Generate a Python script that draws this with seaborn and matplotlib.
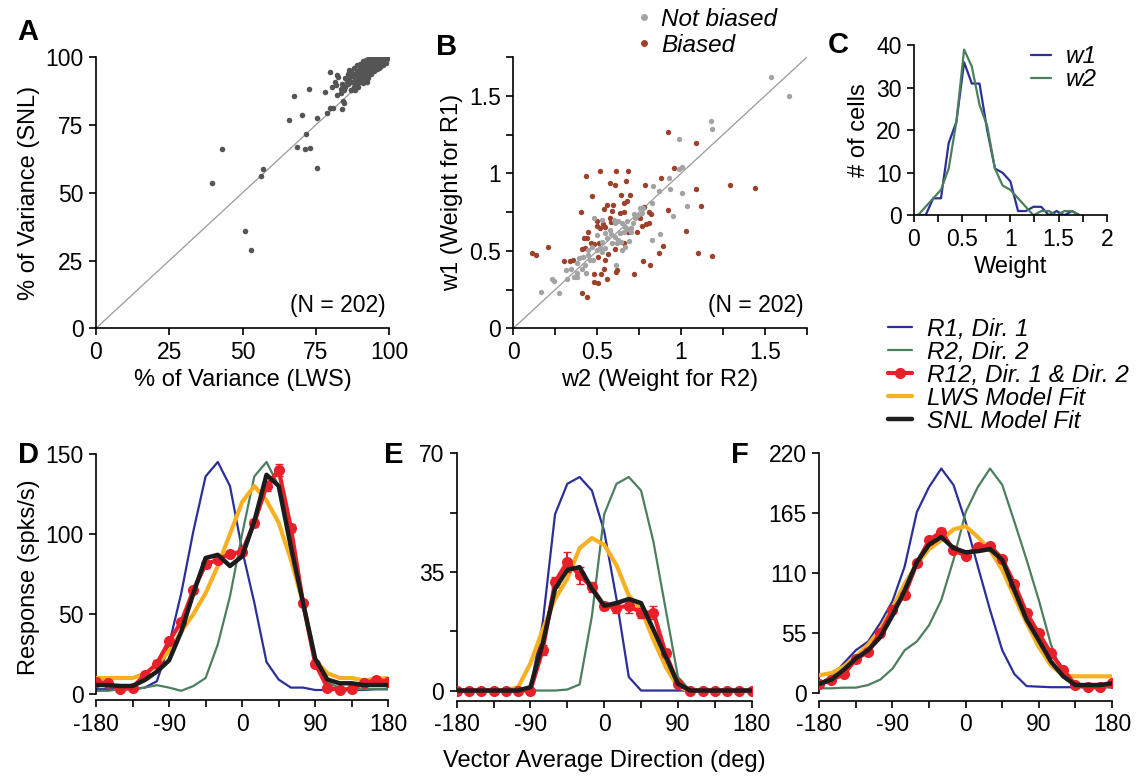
import numpy as np
import pandas as pd
import matplotlib
matplotlib.use('Agg')
import matplotlib.pyplot as plt
import seaborn as sns
from matplotlib.lines import Line2D

# ---- panel A: % variance explained, LWS vs SNL ----
a_lws = [39.5, 43, 51, 53, 56.4, 57, 66, 67.6, 70.3, 72.6, 68.7, 71.2, 73, 71.6, 75.3, 75.5,
         78.3, 79, 79.8, 79.9, 81, 82.3, 82.7, 81.9, 82.1, 83.6, 84, 84.4, 84.6, 85.5, 86.3,
         80.7, 81.4, 87, 87.8, 89,
         86, 86.5, 87, 87, 87.5, 88, 88, 88.5, 88.5, 89, 89, 89.5, 89.5, 90, 90, 90, 90.5, 90.5,
         91, 91, 91, 91.5, 91.5, 92, 92, 92, 92.5, 92.5, 93, 93, 93, 93.5, 93.5, 94, 94, 94,
         94.5, 94.5, 95, 95, 95, 95.5, 95.5, 96, 96, 96, 96.5, 96.5, 97, 97, 97, 97.5, 97.5,
         98, 98, 98.5, 98.5, 99, 99, 99.5, 92, 93, 94, 91, 90, 89, 88, 87, 86, 85.5, 85, 85,
         84, 83.5, 84.5, 93.5, 95.5, 97.5, 98.5, 99.5, 96.5, 95, 92.5, 91.5, 89.5, 88.5, 96,
         98, 99, 97]
a_snl = [53.7, 66, 36, 29, 56.3, 58.8, 76.9, 85.8, 78.7, 88.2, 66.8, 66.2, 66.4, 71.6, 59.3, 77.7,
         87.1, 79.6, 94.5, 81.4, 81.2, 93.6, 92.6, 89.9, 86.1, 88.2, 80.9, 84, 83.3, 90.8, 95.3,
         88.9, 90.8, 88, 91, 94.1,
         90, 92, 88, 91, 93, 89, 91, 94, 92.5, 90, 95, 92, 93.5, 91, 94, 96, 92.5, 95,
         93, 90.5, 96.5, 94, 97, 92, 95, 98, 93.5, 96, 94.5, 97, 92.5, 95.5, 98.5, 96, 94, 97.5,
         95, 98.5, 96.5, 97.5, 99, 95.5, 98, 97, 99, 98, 97.5, 99.5, 98, 96.5, 99, 98.5, 99.5,
         99, 98, 99.5, 98.5, 99.5, 99, 99.8, 99, 99.5, 99.6, 98.5, 97.5, 97, 96, 95, 94, 91, 89, 92.5,
         90, 87, 88, 99.7, 99.7, 99.7, 99.7, 99.7, 96, 95, 91, 91.5, 89, 88, 95.5,
         97, 98, 97]

# ---- panel B: weights ----
b_gray_w2 = [1.535, 1.645, 1.181, 1.183, 0.986, 1.008, 0.988, 0.927, 0.937, 0.869, 1.004, 1.034,
             0.951, 0.875, 0.825, 0.825, 0.831, 0.163, 0.272, 0.233, 0.245, 0.312, 0.320, 0.346,
             0.481, 0.527, 0.547, 0.577, 0.607, 0.626, 0.650, 0.666, 0.636, 0.662, 0.686, 0.702,
             0.726, 0.742, 0.756, 0.775, 0.770, 0.714, 0.607, 0.626, 0.587, 0.617, 0.547, 0.517,
             0.497, 0.527, 0.467, 0.447, 0.447, 0.477, 0.418, 0.392, 0.428, 0.412, 0.432, 0.382,
             0.378, 0.614, 0.646, 0.666, 0.690, 0.560, 0.600, 0.680, 0.720, 0.700, 0.640, 0.580,
             0.530, 0.500, 0.460, 0.380, 0.360]
b_gray_w1 = [1.621, 1.499, 1.341, 1.286, 1.221, 1.040, 1.027, 0.973, 0.902, 0.889, 0.874, 0.792,
             0.726, 0.607, 0.807, 0.571, 0.917, 0.237, 0.226, 0.321, 0.308, 0.377, 0.321, 0.383,
             0.715, 0.702, 0.614, 0.635, 0.678, 0.696, 0.678, 0.657, 0.614, 0.624, 0.642, 0.624,
             0.711, 0.730, 0.780, 0.780, 0.743, 0.678, 0.592, 0.571, 0.549, 0.549, 0.517, 0.517,
             0.506, 0.495, 0.528, 0.506, 0.474, 0.441, 0.463, 0.452, 0.409, 0.383, 0.360, 0.334,
             0.360, 0.409, 0.506, 0.528, 0.566, 0.580, 0.700, 0.690, 0.740, 0.650, 0.560, 0.610,
             0.560, 0.600, 0.440, 0.420, 0.330]
b_brown_w2 = [0.113, 0.133, 0.205, 0.304, 0.340, 0.358, 0.404, 0.412, 0.442, 0.432, 0.467, 0.483,
              0.507, 0.483, 0.521, 0.519, 0.575, 0.607, 0.614, 0.684, 0.670, 0.642, 0.698, 0.662,
              0.676, 0.559, 0.597, 0.923, 1.092, 0.959, 0.879, 0.784, 1.088, 1.295, 1.444, 1.122,
              0.921, 1.030, 1.100, 1.183, 0.893, 0.869, 0.815, 0.774, 0.720, 0.618, 0.612, 0.559,
              0.539, 0.547, 0.567, 0.507, 0.607, 0.660, 0.682, 0.736, 0.765, 0.793, 0.809, 0.811,
              0.819, 0.754, 0.781, 0.634, 0.660, 0.587, 0.541, 0.499, 0.499, 0.535, 0.549, 0.444,
              0.438, 0.424, 0.428, 0.463, 0.483, 0.412, 0.509, 0.575, 0.580, 0.515]
b_brown_w1 = [0.489, 0.474, 0.528, 0.437, 0.437, 0.441, 0.754, 0.230, 0.200, 0.984, 0.857, 0.301,
              0.291, 0.349, 0.349, 1.019, 0.941, 0.928, 1.019, 1.019, 0.954, 0.859, 0.859, 0.807,
              0.825, 0.799, 0.799, 1.270, 1.195, 1.038, 0.969, 0.924, 0.900, 0.928, 0.907, 0.790,
              0.767, 0.629, 0.489, 0.467, 0.532, 0.489, 0.409, 0.435, 0.349, 0.377, 0.366, 0.319,
              0.383, 0.441, 0.480, 0.459, 0.512, 0.553, 0.624, 0.624, 0.661, 0.676, 0.678, 0.751,
              0.739, 0.713, 0.786, 0.745, 0.751, 0.756, 0.769, 0.691, 0.663, 0.674, 0.657, 0.622,
              0.586, 0.584, 0.521, 0.549, 0.545, 0.512, 0.549, 0.711, 0.689, 0.646]

# ---- panel C: weight histograms ----
c_bins = [0.04, 0.12, 0.20, 0.28, 0.36, 0.44, 0.52, 0.60, 0.68, 0.76, 0.84, 0.92, 1.00, 1.08,
          1.16, 1.24, 1.32, 1.40, 1.48, 1.56, 1.64, 1.72]
c_w1 = [0, 0, 4, 4, 17, 22, 36, 31, 31, 20, 11, 10, 8, 1, 1, 2, 2, 0, 1, 0, 1, 0]
c_w2 = [0, 2, 4, 6, 11, 22, 39, 35, 26, 21, 11, 7, 6, 4, 2, 0, 1, 1, 0, 1, 1, 0]

# ---- panels D-F: tuning curves ----
dirs = list(range(-180, 181, 15))

d_r1 = [3, 3, 3, 3, 4, 8, 31, 63, 102, 136, 145, 130, 90, 57, 20, 9, 4, 4, 2.5, 2.5, 2.5, 2.5, 2.5, 3, 3]
d_r2 = [2, 2, 3, 3, 4, 5.5, 4, 2, 5, 10, 31, 61, 100, 136, 145, 130, 90, 57, 20, 7, 4, 3, 3, 3, 3]
d_r12 = [7.7, 6.7, 3, 4, 12, 19, 33, 45, 65, 81, 84, 87.5, 89, 107, 130, 140, 104, 57, 19, 4, 2.5, 3, 6.7, 8.7, 7.7]
d_err = [1, 1, 1, 1, 1.5, 2, 2, 2, 2, 2, 2, 2, 2, 2.5, 3, 4, 2.5, 2, 1.5, 1, 1, 1, 1, 1, 1]
d_lws = [10, 10, 10, 10, 12.5, 18, 27, 39, 50, 63, 80, 100, 120, 130, 121, 107, 84, 57, 21, 13, 10, 10, 8.5, 9.5, 10]
d_snl = [5.6, 5.6, 5, 5, 8.7, 14, 21, 39, 63, 85, 87, 80, 86, 108, 137, 130, 92, 57, 22, 9, 6.7, 6.7, 5.6, 5.6, 5.6]

e_r1 = [0, 0, 0, 0, 0, 0, 0.7, 20, 52, 61, 63, 59, 47, 27, 4, 0, 0, 0, 0, 0, 0, 0, 0, 0, 0]
e_r2 = [0, 0, 0, 0, 0, 0, 0, 0, 0, 0.3, 1.8, 22, 52, 61, 63, 59, 44, 24, 4, 0, 0, 0, 0, 0, 0]
e_r12 = [0, 0, 0, 0, 0, 0, 0, 12, 32, 38, 34, 30.5, 25, 24.5, 25, 23, 23, 11, 2, 0, 0, 0, 0, 0, 0]
e_err = [0.3, 0.3, 0.3, 0.3, 0.3, 0.3, 0.3, 1.5, 1.5, 3, 2.5, 1.5, 1.2, 1.5, 2, 1.5, 2, 1.2, 0.5, 0.3, 0.3, 0.3, 0.3, 0.3, 0.3]
e_lws = [0, 0, 0, 0, 0, 1, 8, 18, 27, 33, 42, 45, 43, 37, 28, 24, 15, 7, 1, 0, 0, 0, 0, 0, 0]
e_snl = [0, 0, 0, 0, 0, 0, 1, 14, 30, 35.6, 36.4, 30, 25, 25.8, 27, 25.8, 18, 10, 2, 0, 0, 0, 0, 0, 0]

f_r1 = [8.6, 14.7, 27, 39, 47, 64, 84, 116, 166, 189, 206, 191, 157, 116, 76, 39, 17, 6, 5.5, 5, 5, 5, 5, 5, 5]
f_r2 = [4, 4, 4.6, 4.6, 7, 12, 22, 39, 47, 62, 85, 122, 166, 189, 206, 191, 157, 122, 85, 44, 15, 7, 5, 5, 5]
f_r12 = [8, 11.6, 17, 30.6, 37.7, 55, 76, 90, 119, 140, 148, 131, 126, 134, 135, 123, 100, 73, 54.5, 36, 21, 7, 5, 5, 8.6]
f_err = [1, 1, 1.5, 1.5, 2, 2, 2, 2, 2.5, 3, 3, 2.5, 2.5, 2.5, 2.5, 2.5, 2, 2, 2, 2, 1.5, 1, 1, 1, 1]
f_lws = [16, 18, 24, 33, 44, 58, 78, 100, 118, 132, 140, 150, 153, 143, 131, 113, 88, 64, 42, 25, 16, 15, 15, 15, 15]
f_snl = [8, 12, 21, 31.5, 39, 51, 71, 94, 120, 136, 143, 133, 129, 130, 132, 122, 94, 67, 48, 28.5, 15, 7, 7, 7, 8.6]

BLUE = '#2b2f96'
GREEN = '#4b7f5e'
RED = '#e8202a'
YELLOW = '#f9b020'
BLACK = '#1c1c1c'

sns.set_theme(style='ticks')
plt.rcParams['font.family'] = ['Liberation Sans', 'DejaVu Sans']
plt.rcParams['axes.linewidth'] = 1.2
plt.rcParams['xtick.labelsize'] = 16.5
plt.rcParams['ytick.labelsize'] = 16.5
plt.rcParams['axes.labelsize'] = 17
plt.rcParams['text.color'] = 'black'
plt.rcParams['axes.labelcolor'] = 'black'
plt.rcParams['xtick.color'] = 'black'
plt.rcParams['ytick.color'] = 'black'
plt.rcParams['axes.edgecolor'] = 'black'

LEG_FONT = {'style': 'italic', 'size': 17.5}

fig = plt.figure(figsize=(11.38, 7.78), dpi=100)
W, H = 1138, 778


def add_ax(x0, x1, ytop, ybot):
    return fig.add_axes([x0 / W, 1 - ybot / H, (x1 - x0) / W, (ybot - ytop) / H])


def set_ticks(ax, axis, vals, labeled):
    labs = ['%g' % v if v in labeled else '' for v in vals]
    if axis == 'x':
        ax.set_xticks(vals)
        ax.set_xticklabels(labs)
    else:
        ax.set_yticks(vals)
        ax.set_yticklabels(labs)


# A
axA = add_ax(96, 389, 57.3, 328.3)
axA.plot([0, 100], [0, 100], color='#999999', lw=0.9, zorder=1)
sns.scatterplot(x=a_lws, y=a_snl, ax=axA, color='#555555', s=16, linewidth=0, zorder=2)
axA.set_xlim(0, 100)
axA.set_ylim(0, 100)
axA.set_xticks([0, 25, 50, 75, 100])
axA.set_yticks([0, 25, 50, 75, 100])
axA.set_xlabel('% of Variance (LWS)')
axA.set_ylabel('% of Variance (SNL)')
axA.text(99, 4, '(N = 202)', ha='right', va='bottom', fontsize=16.5)

# B
axB = add_ax(513.3, 806.7, 57.3, 328.3)
axB.plot([0, 1.75], [0, 1.75], color='#999999', lw=0.9, zorder=1)
sns.scatterplot(x=b_brown_w2, y=b_brown_w1, ax=axB, color='#9c412b', s=15, linewidth=0, zorder=2)
sns.scatterplot(x=b_gray_w2, y=b_gray_w1, ax=axB, color='#a3a3a3', s=15, linewidth=0, zorder=3)
axB.set_xlim(0, 1.75)
axB.set_ylim(0, 1.75)
bt = [0, 0.25, 0.5, 0.75, 1, 1.25, 1.5, 1.75]
set_ticks(axB, 'x', bt, [0, 0.5, 1, 1.5])
set_ticks(axB, 'y', bt, [0, 0.5, 1, 1.5])
axB.set_xlabel('w2 (Weight for R2)')
axB.set_ylabel('w1 (Weight for R1)')
axB.text(1.73, 0.07, '(N = 202)', ha='right', va='bottom', fontsize=16.5)
b_handles = [Line2D([], [], ls='none', marker='o', ms=5, color='#a3a3a3', mec='none'),
             Line2D([], [], ls='none', marker='o', ms=5, color='#9c412b', mec='none')]
fig.legend(b_handles, ['Not biased', 'Biased'], loc='upper left',
           bbox_to_anchor=(610 / W, 1 + 14 / H), frameon=False, handletextpad=0.2,
           labelspacing=0.12, prop=LEG_FONT, handlelength=1.0)

# C
axC = add_ax(914, 1106.7, 45.3, 215.3)
sns.lineplot(x=c_bins, y=c_w1, ax=axC, color=BLUE, lw=1.6, label='w1')
sns.lineplot(x=c_bins, y=c_w2, ax=axC, color=GREEN, lw=1.6, label='w2')
axC.set_xlim(0, 2)
axC.set_ylim(0, 40)
set_ticks(axC, 'x', [0, 0.25, 0.5, 0.75, 1, 1.25, 1.5, 1.75, 2], [0, 0.5, 1, 1.5, 2])
axC.set_yticks([0, 10, 20, 30, 40])
axC.set_xlabel('Weight')
axC.set_ylabel('# of cells')
axC.legend(loc='upper right', bbox_to_anchor=(1.06, 1.13), frameon=False, handlelength=0.8,
           handletextpad=0.6, labelspacing=0.0, prop=LEG_FONT)

# D-F
panels = [
    (96, 388.3, 454, 700.4, (-4, 150), [0, 50, 100, 150], [0, 50, 100, 150],
     d_r1, d_r2, d_r12, d_err, d_lws, d_snl),
    (456.7, 751.7, 453.3, 700.7, (-3, 70), [0, 17.5, 35, 52.5, 70], [0, 35, 70],
     e_r1, e_r2, e_r12, e_err, e_lws, e_snl),
    (819.3, 1112, 453.3, 700.7, (-7.4, 220), [0, 55, 110, 165, 220], [0, 55, 110, 165, 220],
     f_r1, f_r2, f_r12, f_err, f_lws, f_snl),
]
tuning_axes = []
for (x0, x1, yt, yb, ylim, yt_all, yt_lab, r1, r2, r12, err, lws, snl) in panels:
    ax = add_ax(x0, x1, yt, yb)
    sns.lineplot(x=dirs, y=r1, ax=ax, color=BLUE, lw=1.6, zorder=2)
    sns.lineplot(x=dirs, y=r2, ax=ax, color=GREEN, lw=1.6, zorder=2)
    sns.lineplot(x=dirs, y=lws, ax=ax, color=YELLOW, lw=3, zorder=3)
    ax.errorbar(dirs, r12, yerr=err, fmt='none', ecolor=RED, elinewidth=1.5, capsize=3, zorder=4)
    sns.lineplot(x=dirs, y=r12, ax=ax, color=RED, lw=3, marker='o', markersize=8,
                 markeredgewidth=0, zorder=4)
    sns.lineplot(x=dirs, y=snl, ax=ax, color=BLACK, lw=3.2, zorder=5)
    ax.set_xlim(-180, 180)
    ax.set_ylim(*ylim)
    set_ticks(ax, 'x', list(range(-180, 181, 45)), [-180, -90, 0, 90, 180])
    ax.set_yticks(yt_all)
    ax.set_yticklabels(['%g' % v if v in yt_lab else '' for v in yt_all])
    ax.spines['left'].set_bounds(0, ylim[1])
    tuning_axes.append(ax)

tuning_axes[0].set_ylabel('Response (spks/s)')
tuning_axes[1].set_xlabel('Vector Average Direction (deg)', labelpad=10)

for ax in [axA, axB, axC] + tuning_axes:
    sns.despine(ax=ax)
    ax.tick_params(direction='out', length=5, width=1.2, colors='black', labelcolor='black', pad=4)

leg_handles = [Line2D([], [], color=BLUE, lw=1.6),
               Line2D([], [], color=GREEN, lw=1.6),
               Line2D([], [], color=RED, lw=3, marker='o', ms=8, mec='none'),
               Line2D([], [], color=YELLOW, lw=3),
               Line2D([], [], color=BLACK, lw=3.2)]
leg_labels = ['R1, Dir. 1', 'R2, Dir. 2', 'R12, Dir. 1 & Dir. 2', 'LWS Model Fit', 'SNL Model Fit']
fig.legend(leg_handles, leg_labels, loc='upper left', bbox_to_anchor=(866 / W, 1 - 296 / H),
           frameon=False, handlelength=1.0, handletextpad=0.6, labelspacing=0.0,
           prop=LEG_FONT)

for letter, (px, py) in {'A': (28, 32), 'B': (447, 47), 'C': (838, 45),
                         'D': (28, 455), 'E': (394, 455), 'F': (740, 455)}.items():
    fig.text(px / W, 1 - py / H, letter, fontsize=21, fontweight='bold', ha='center', va='center')

fig.savefig('out.png', dpi=100)
